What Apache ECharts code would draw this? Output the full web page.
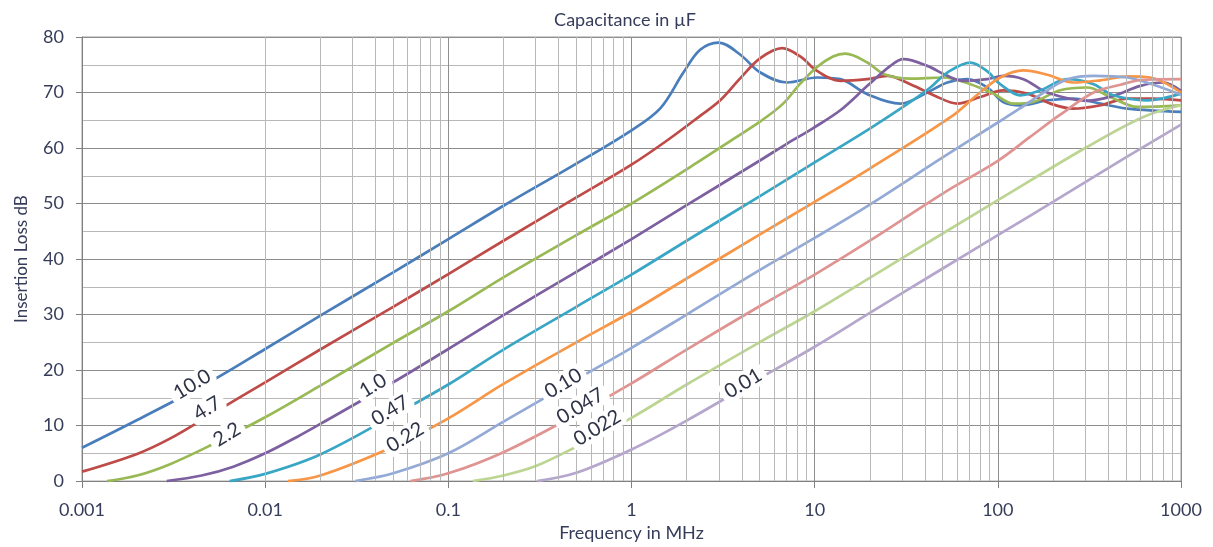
<!DOCTYPE html>
<html><head><meta charset="utf-8">
<script src="https://cdn.jsdelivr.net/npm/echarts@6/dist/echarts.min.js"></script>
<style>html,body{margin:0;padding:0;background:#fff}#c{width:1213px;height:547px}</style>
</head><body><div id="c"></div>
<script>
// Capacitance values (µF) shown as curve labels
const capNames = ['10.0','4.7','2.2','1.0','0.47','0.22','0.10','0.047','0.022','0.01'];
const lineColors = ['#4a7ebb','#be4b48','#98b954','#7d60a0','#38a6c4','#f79646','#93a9d6','#df9492','#bdd593','#b4a6cc'];

// [frequency MHz, insertion loss dB]
const c10_0 = [[0.001,6.0],[0.002,11.0],[0.005,17.9],[0.01,23.8],[0.02,29.8],[0.05,37.6],[0.1,43.6],[0.2,49.6],[0.5,57.2],[1.0,63.2],[1.44,67.2],[1.92,73.6],[2.37,77.7],[2.98,79.0],[3.93,76.8],[5.05,73.6],[7.08,71.8],[10.3,72.7],[13.8,72.4],[19.4,69.7],[29.3,68.0],[41.2,70.0],[53.0,71.8],[68.1,72.4],[87.7,70.9],[107,68.3],[133,67.7],[188,68.6],[258,68.9],[363,68.0],[510,67.1],[1000,66.5]];
const c4_7 = [[0.001,1.7],[0.002,4.9],[0.003,7.6],[0.005,11.9],[0.01,17.8],[0.02,23.7],[0.05,31.4],[0.1,37.3],[0.2,43.3],[0.5,51.1],[1.0,57.0],[1.57,61.4],[2.37,65.8],[3.05,68.6],[3.93,72.6],[5.05,76.2],[6.65,78.0],[8.34,76.5],[10.3,73.9],[13.8,72.1],[19.4,72.4],[24.9,73.0],[33.3,71.5],[46.8,69.2],[60.1,68.0],[80.2,69.2],[107,70.4],[145,69.8],[194,68.0],[258,67.1],[363,67.7],[510,68.9],[707,68.9],[1000,68.6]];
const c2_2 = [[0.00137,0],[0.002,1.0],[0.003,3.0],[0.005,6.4],[0.01,11.5],[0.02,17.2],[0.05,24.9],[0.1,30.6],[0.2,36.7],[0.5,44.3],[1.0,50.0],[2.29,57.4],[3.59,61.6],[5.05,64.8],[6.73,68.0],[8.34,71.6],[10.3,74.6],[12.6,76.5],[14.7,77.0],[19.4,75.4],[24.0,73.3],[33.3,72.5],[50.4,72.7],[70.8,71.5],[94.5,69.8],[122,68.0],[156,68.3],[219,70.4],[308,70.9],[411,69.2],[578,67.4],[1000,67.7]];
const c1_0 = [[0.0029,0],[0.0045,1.0],[0.0067,2.6],[0.01,5.0],[0.015,8.0],[0.02,10.3],[0.05,17.8],[0.1,23.8],[0.2,29.9],[0.5,37.7],[1.0,43.6],[2.0,49.7],[5.05,57.8],[7.08,60.8],[9.82,63.6],[13.8,66.8],[19.4,71.2],[25.9,74.8],[30.5,76.0],[41.2,74.8],[53.0,73.0],[64.8,72.1],[87.7,72.4],[107,73.0],[138,72.4],[186,70.0],[308,68.5],[427,69.4],[600,71.2],[802,71.8],[1000,70.3]];
const c0_47 = [[0.0064,0],[0.01,1.3],[0.02,4.8],[0.05,11.8],[0.1,17.4],[0.2,23.7],[0.5,31.4],[1.0,37.2],[2.0,43.3],[5.0,51.3],[10,57.4],[20,63.5],[32.0,67.9],[42.8,70.9],[53.0,73.6],[70.8,75.4],[87.7,73.8],[103,71.5],[133,69.5],[171,70.4],[240,72.4],[333,71.5],[427,69.5],[655,68.6],[1000,69.8]];
const c0_22 = [[0.0133,0],[0.02,1.0],[0.05,6.2],[0.1,11.3],[0.2,17.5],[0.5,25.0],[1.0,30.5],[2.0,36.5],[5.0,44.4],[10,50.3],[20,56.3],[55.4,65.6],[77.3,69.6],[103,72.7],[138,74.0],[186,73.2],[258,71.8],[363,72.2],[510,72.9],[681,72.7],[1000,70.0]];
const c0_10 = [[0.031,0],[0.05,1.4],[0.1,5.0],[0.2,10.7],[0.5,18.3],[1.0,24.0],[2.0,30.0],[5.0,38.0],[10,43.8],[20,49.8],[50,58.3],[100,64.6],[130,67.0],[186,70.4],[240,72.4],[333,73.0],[510,72.7],[707,71.4],[1000,69.6]];
const c0_047 = [[0.062,0],[0.1,1.4],[0.2,5.2],[0.5,12.0],[1.0,17.6],[2.0,23.7],[5.0,31.5],[10,37.2],[20,43.3],[50,51.8],[100,57.7],[150,62.0],[219,66.0],[333,70.0],[467,71.4],[623,72.3],[1000,72.4]];
const c0_022 = [[0.136,0],[0.2,1.0],[0.3,2.7],[0.5,6.2],[1.0,11.4],[2.0,17.4],[5.0,25.0],[10,30.6],[20,36.6],[50,44.6],[100,50.6],[300,60.0],[623,65.6],[1000,67.7]];
const c0_01 = [[0.305,0],[0.5,1.5],[1.0,5.7],[2.0,10.9],[5.0,18.5],[10,24.2],[20,30.3],[50,38.3],[100,44.3],[200,50.3],[500,58.3],[1000,64.2]];
const curves = [c10_0,c4_7,c2_2,c1_0,c0_47,c0_22,c0_10,c0_047,c0_022,c0_01];

// where each curve label sits (frequency MHz, dB)
const labelFreq = [0.00399,0.00482,0.00619,0.0388,0.0481,0.0581,0.424,0.525,0.650,4.07];
const labelDb   = [17.4,13.1,8.4,17.2,12.7,7.9,17.6,13.5,9.6,17.6];

// axis ticks
const decades = [0.001,0.01,0.1,1,10,100];
const minorMult = [2,3,4,5,6,7,8,9];
const yMin = 0, yMax = 80, yStep = 10;

const FONT = 'Lato';
const TXT = '#363d5a';

const minorLines = [];
decades.forEach(d => minorMult.forEach(m => minorLines.push({xAxis: +(m*d).toPrecision(3)})));

const series = [{
  type: 'line', data: [], z: 1, silent: true,
  markLine: {
    silent: true, symbol: ['none','none'], animation: false,
    label: {show: false},
    lineStyle: {color: '#b8b8b8', type: 'solid', width: 1},
    emphasis: {disabled: true},
    data: minorLines
  }
}];
curves.forEach((d, i) => {
  series.push({
    name: capNames[i], type: 'line', data: d, showSymbol: false,
    smooth: 0.35, z: 3,
    lineStyle: {color: lineColors[i], width: 2.7},
    itemStyle: {color: lineColors[i]},
    markPoint: {
      symbol: 'rect', symbolSize: 1, itemStyle: {color: 'rgba(0,0,0,0)'},
      z: 10, animation: false,
      label: {
        show: true, position: 'inside', formatter: capNames[i], rotate: 31,
        backgroundColor: '#ffffff', borderRadius: 6, padding: [2, 5, 0, 5],
        color: '#2e3347', fontFamily: FONT, fontSize: 20
      },
      data: [{coord: [labelFreq[i], labelDb[i]]}]
    }
  });
});

const chart = echarts.init(document.getElementById('c'));
chart.setOption({
  animation: false,
  backgroundColor: '#fff',
  title: {
    text: 'Capacitance in µF', left: 620, top: 6, textAlign: 'center',
    textStyle: {fontFamily: FONT, fontSize: 18, fontWeight: 'normal', color: TXT}
  },
  grid: {left: 82, right: 32, top: 37, bottom: 62, show: true, borderColor: '#9a9a9a', borderWidth: 1},
  xAxis: {
    type: 'log', logBase: 10, min: decades[0], max: 1000,
    name: 'Frequency in MHz', nameLocation: 'middle', nameGap: 42,
    nameTextStyle: {fontFamily: FONT, fontSize: 18, color: TXT},
    axisLine: {lineStyle: {color: '#808080', width: 1}},
    axisTick: {show: true, length: 7, lineStyle: {color: '#808080'}},
    axisLabel: {
      margin: 20, fontFamily: FONT, fontSize: 18, color: TXT,
      formatter: v => String(Number(v.toPrecision(3)))
    },
    splitLine: {show: true, lineStyle: {color: '#8e8e8e', width: 1}}
  },
  yAxis: {
    type: 'value', min: yMin, max: yMax, interval: yStep,
    name: 'Insertion Loss dB', nameLocation: 'middle', nameGap: 52,
    nameTextStyle: {fontFamily: FONT, fontSize: 17, color: TXT},
    axisLine: {show: true, lineStyle: {color: '#808080', width: 1}},
    axisTick: {show: true, length: 6, lineStyle: {color: '#808080'}},
    axisLabel: {margin: 18, fontFamily: FONT, fontSize: 18, color: TXT},
    splitLine: {show: true, lineStyle: {color: '#8e8e8e', width: 1}},
    minorTick: {show: false, splitNumber: 2},
    minorSplitLine: {show: true, lineStyle: {color: '#b8b8b8', width: 1}}
  },
  series: series
});
</script>
</body></html>
